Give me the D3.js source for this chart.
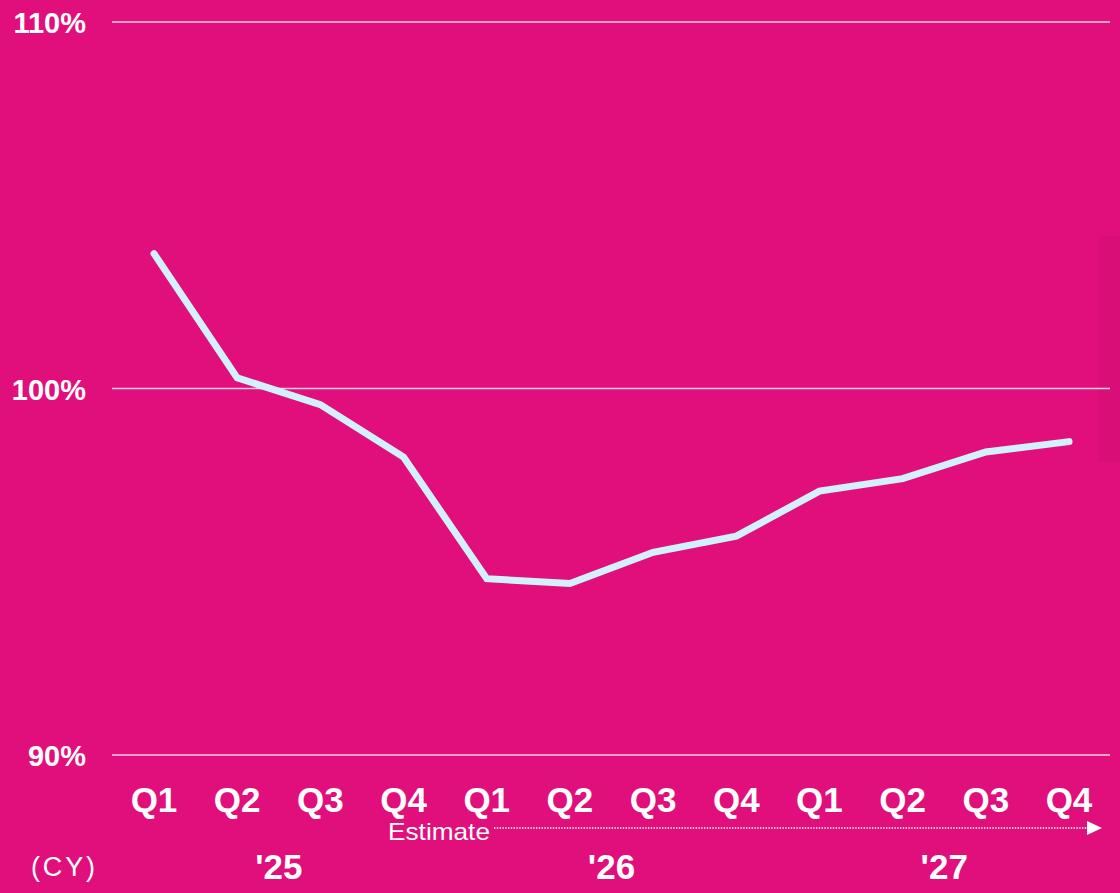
<!DOCTYPE html>
<html>
<head>
<meta charset="utf-8">
<script src="https://cdn.jsdelivr.net/npm/d3@7"></script>
<style>
  html, body { margin: 0; padding: 0; background: #e10f7b; }
  svg { display: block; }
  text { font-family: "Liberation Sans", Arial, sans-serif; fill: #fff; }
</style>
</head>
<body>
<svg id="chart" width="1120" height="893"></svg>
<script>
// quarterly values (%), CY2025 Q1 .. CY2027 Q4
const quarters = ["Q1", "Q2", "Q3", "Q4", "Q1", "Q2", "Q3", "Q4", "Q1", "Q2", "Q3", "Q4"];
const values = [103.68, 100.29, 99.56, 98.13, 94.81, 94.68, 95.53, 95.97, 97.2, 97.54, 98.27, 98.55];
const yTicks = [90, 100, 110];
const years = [{ label: "'25", between: [1, 2] }, { label: "'26", between: [5, 6] }, { label: "'27", between: [9, 10] }];

const svg = d3.select("#chart");
const W = 1120, H = 893;

svg.append("rect").attr("width", W).attr("height", H).attr("fill", "#e10f7b");
// faint darker strip at the right edge
svg.append("rect").attr("x", 1099).attr("y", 236).attr("width", 21).attr("height", 226)
  .attr("fill", "#000").attr("opacity", 0.035);

const x = d3.scalePoint().domain(d3.range(quarters.length)).range([154, 1069]);
const y = d3.scaleLinear().domain([90, 110]).range([755, 22]);

// gridlines + y labels
const grid = svg.append("g");
yTicks.forEach(t => {
  grid.append("line")
    .attr("x1", 112).attr("x2", 1110)
    .attr("y1", y(t)).attr("y2", y(t))
    .attr("stroke", "#fff").attr("stroke-opacity", 0.8).attr("stroke-width", 1.6);
  grid.append("text")
    .attr("x", 86).attr("y", y(t) + 11)
    .attr("text-anchor", "end")
    .attr("font-size", 29).attr("font-weight", "bold")
    .text(t + "%");
});

// line
const line = d3.line().x((d, i) => x(i)).y(d => y(d));
svg.append("path")
  .datum(values)
  .attr("d", line)
  .attr("fill", "none")
  .attr("stroke", "#d2f1fb")
  .attr("stroke-width", 7)
  .attr("stroke-linecap", "round")
  .attr("stroke-linejoin", "miter");

// quarter labels
svg.append("g").selectAll("text")
  .data(quarters)
  .join("text")
  .attr("x", (d, i) => x(i)).attr("y", 812)
  .attr("text-anchor", "middle")
  .attr("font-size", 35).attr("font-weight", "bold")
  .text(d => d);

// estimate marker
svg.append("text")
  .attr("x", 388).attr("y", 840)
  .attr("font-size", 24)
  .attr("textLength", 102).attr("lengthAdjust", "spacingAndGlyphs")
  .text("Estimate");
svg.append("line")
  .attr("x1", 494).attr("x2", 1088)
  .attr("y1", 828).attr("y2", 828)
  .attr("stroke", "#fff").attr("stroke-width", 1.4)
  .attr("stroke-dasharray", "1.4,1.4");
svg.append("path")
  .attr("d", d3.line()([[1087, 821], [1102, 828], [1087, 835]]) + "Z")
  .attr("fill", "#fff");

// year labels
svg.append("g").selectAll("text")
  .data(years)
  .join("text")
  .attr("x", d => (x(d.between[0]) + x(d.between[1])) / 2).attr("y", 879)
  .attr("text-anchor", "middle")
  .attr("font-size", 35).attr("font-weight", "bold")
  .text(d => d.label);

svg.append("text")
  .attr("x", 31).attr("y", 876)
  .attr("font-size", 27)
  .attr("textLength", 64).attr("lengthAdjust", "spacing")
  .text("(CY)");
</script>
</body>
</html>
